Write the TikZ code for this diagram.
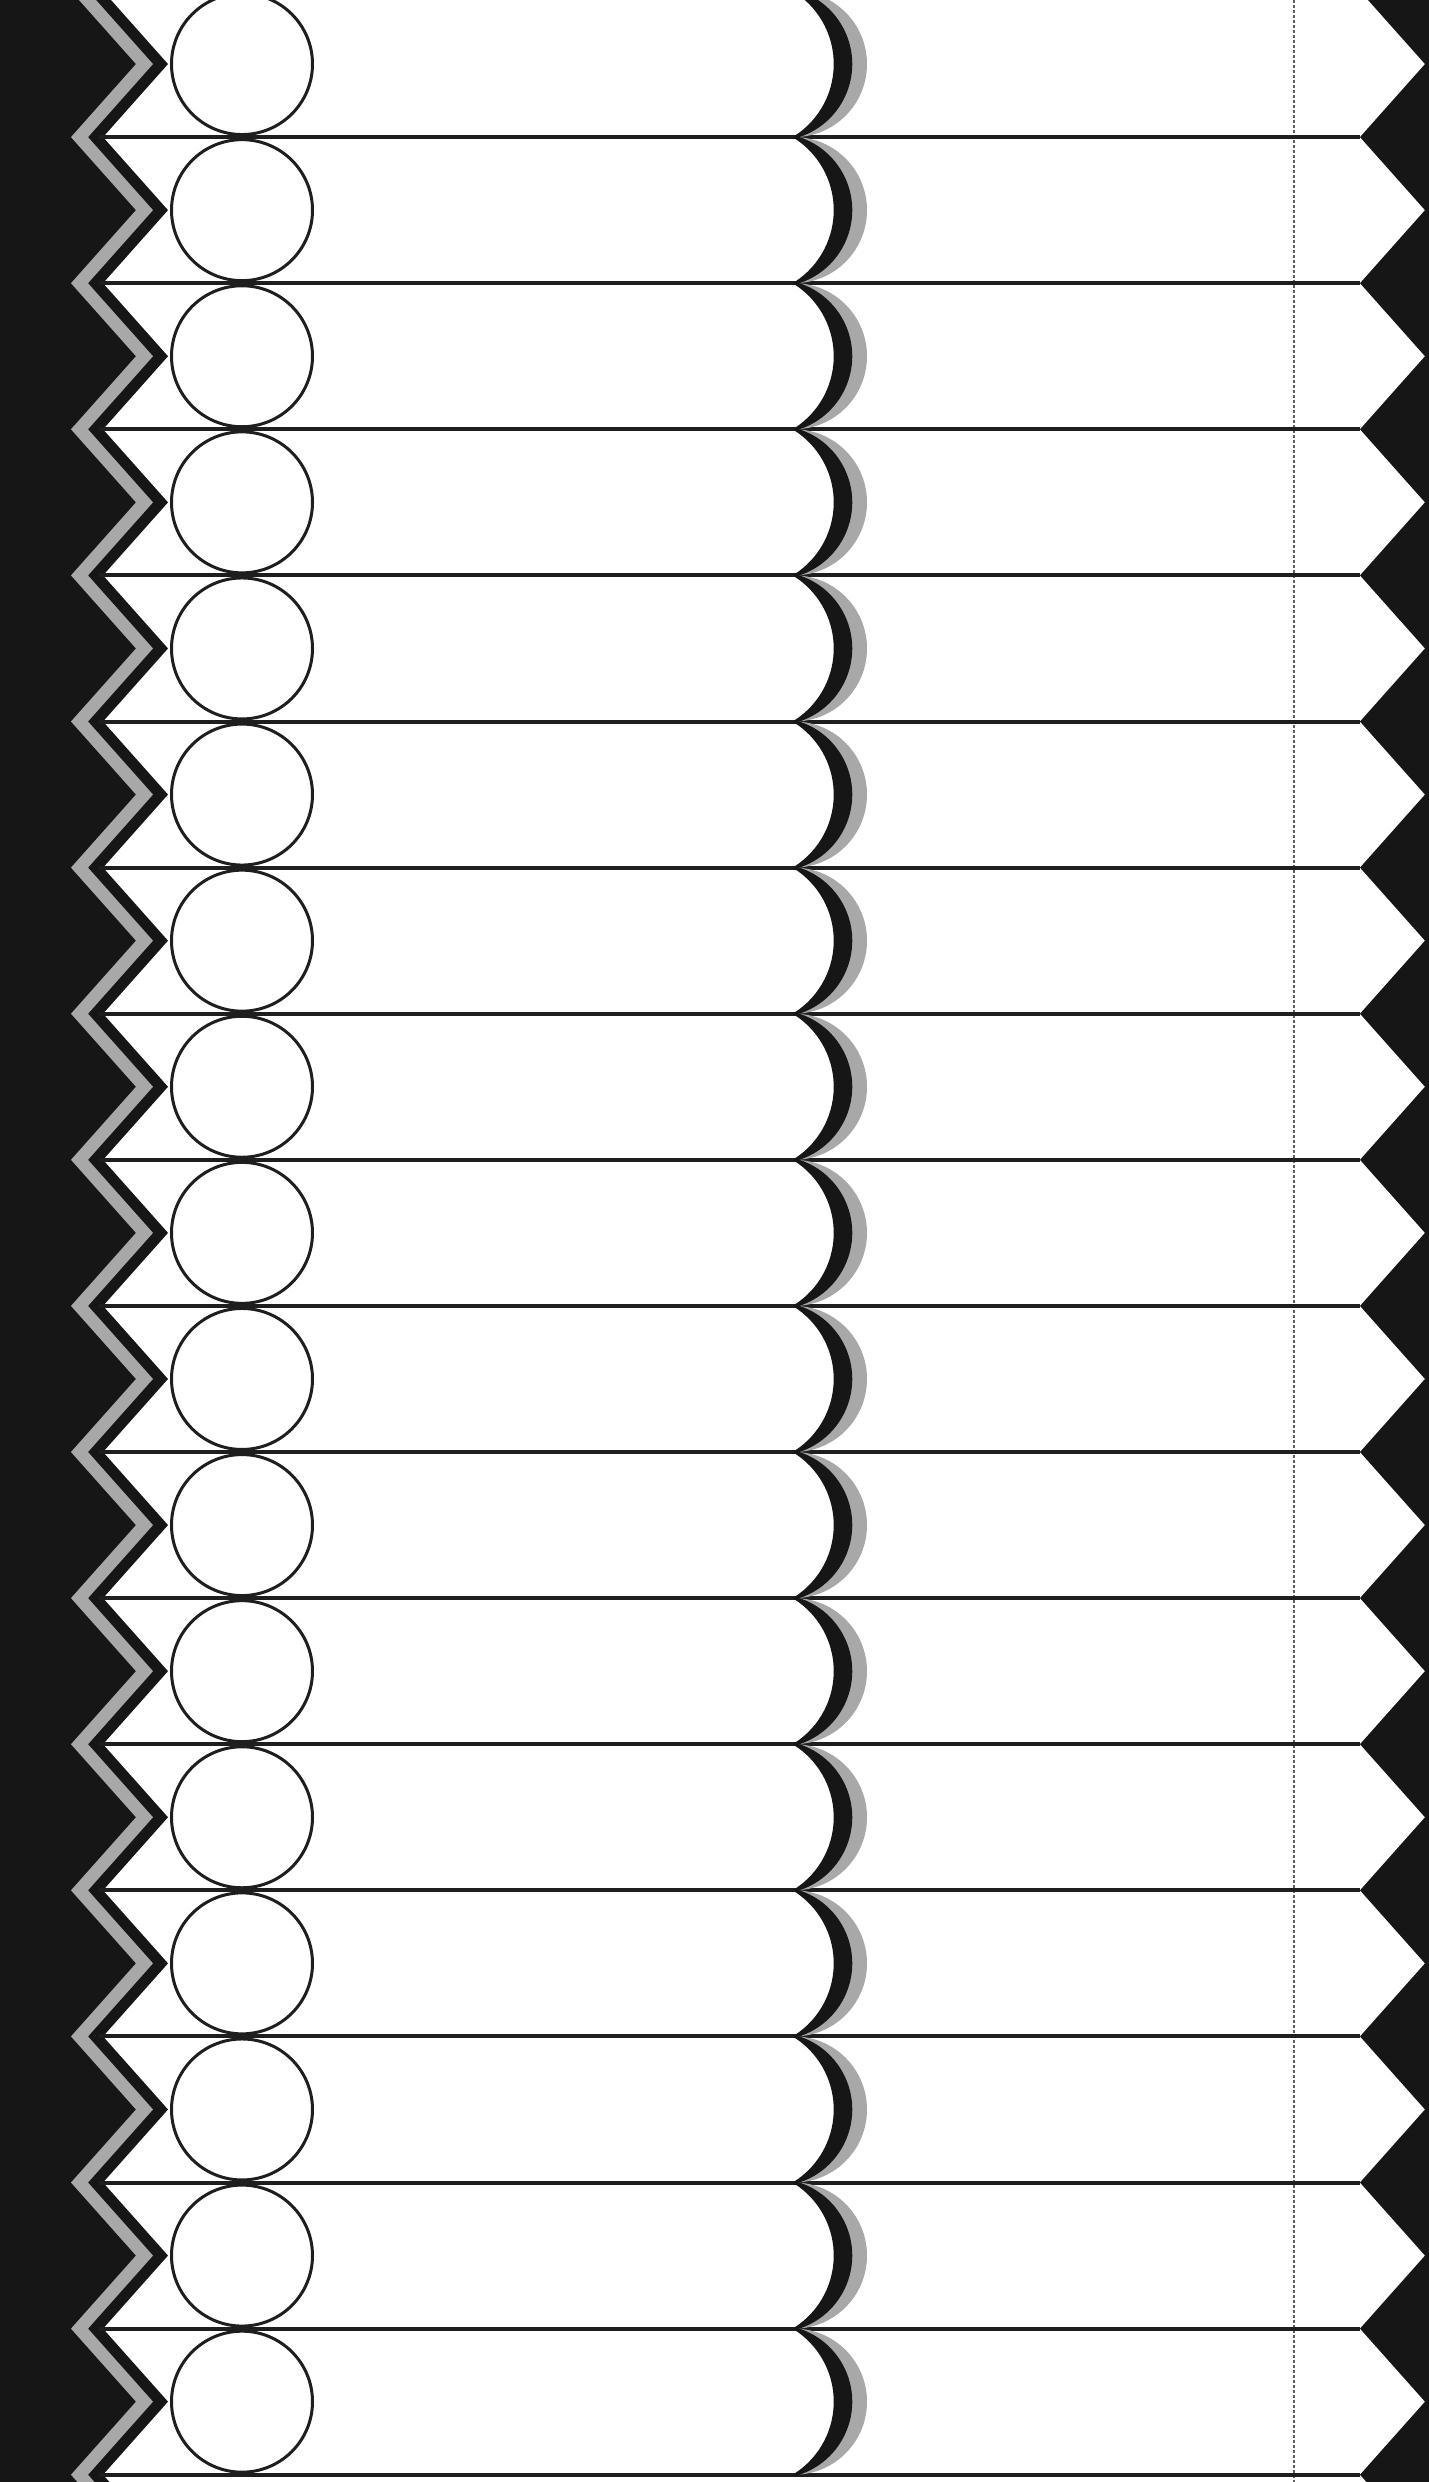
\documentclass[tikz,border=0pt]{standalone}
\definecolor{ink}{RGB}{22,22,22}
\definecolor{stripe}{RGB}{168,168,168}
\definecolor{shade}{RGB}{168,168,168}
\definecolor{rulec}{RGB}{30,30,30}
\definecolor{dotline}{RGB}{95,95,95}
\tikzset{
  rowline/.style={rulec, line width=4},
  ringc/.style={rulec, line width=3, fill=white},
  zig/.style={stripe, line width=12.7, line join=miter, miter limit=20},
  crescent/.style={ink, line width=2.5, fill=ink, line join=round},
  shadow/.style={fill=shade},
  guide/.style={dotline, line width=1.8, dash pattern=on 3 off 2}
}
\begin{document}
\begin{tikzpicture}[x=1pt,y=1pt]
\useasboundingbox (0,0) rectangle (1429,-2482);
\clip (0,0) rectangle (1429,-2482);
\fill[white] (0,0) rectangle (1429,-2482);
% left black zigzag region
\fill[ink] (-20,300) \foreach \k in {-1,...,18} { -- (103,{9-146.1*\k}) -- (168,{9-146.1*\k-73.05}) } -- (-20,-2800) -- cycle;
% gray stripe inside it
\draw[zig] (79.5,{9+146.1}) \foreach \k in {-1,...,18} { -- (79.5,{9-146.1*\k}) -- (144.5,{9-146.1*\k-73.05}) };
% right black arrow notches
\fill[ink] (1450,300) \foreach \k in {-1,...,18} { -- (1360,{9-146.1*\k}) -- (1425,{9-146.1*\k-73.05}) } -- (1450,-2800) -- cycle;
% dotted guide
\draw[guide] (1294,0) -- (1294,-2482);
% horizontal row lines
\foreach \k in {0,...,17} {
  \draw[rowline] (99,{9-146.1*\k}) -- (1360,{9-146.1*\k});
}
% middle crescents
\foreach \k in {0,...,16} {
  \pgfmathsetmacro\yt{9-146.1*\k}
  \fill[shadow] (795,\yt) arc[start angle=89.17, end angle=-89.17, radius=73.06] arc[start angle=-74.95, end angle=74.95, radius=75.65] -- cycle;
  \filldraw[crescent] (795,\yt) arc[start angle=74.95, end angle=-74.95, radius=75.65] arc[start angle=-57.4, end angle=57.4, radius=86.7] -- cycle;
}
% circles
\foreach \k in {0,...,16} {
  \draw[ringc] (242,{9-146.1*\k-73.05}) circle[radius=70.5];
}
\end{tikzpicture}
\end{document}
